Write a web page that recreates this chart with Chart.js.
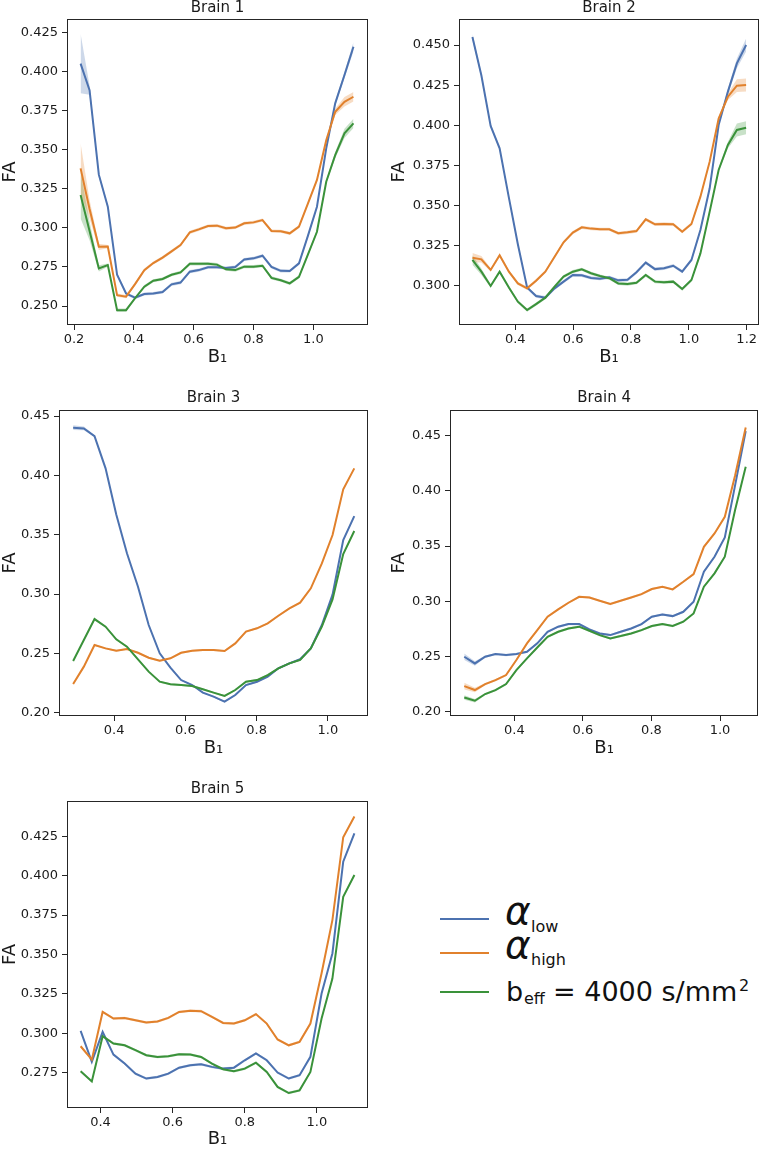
<!DOCTYPE html>
<html>
<head>
<meta charset="utf-8">
<script src="https://cdn.jsdelivr.net/npm/chart.js@4.4.1/dist/chart.umd.min.js"></script>
<style>
  html, body { margin:0; padding:0; background:#fff; }
  body { width:761px; height:1150px; position:relative; overflow:hidden; font-family:"DejaVu Sans", sans-serif; color:#111; }
  canvas { position:absolute; }
  .lg { position:absolute; line-height:1; white-space:nowrap; font-family:"DejaVu Sans", sans-serif; color:#111; }
  .ln { position:absolute; height:2px; width:49px; }
</style>
</head>
<body>
<canvas id="brain1" width="380" height="382" style="left:0px;top:0px"></canvas>
<canvas id="brain2" width="381" height="382" style="left:380px;top:0px"></canvas>
<canvas id="brain3" width="380" height="385" style="left:0px;top:382px"></canvas>
<canvas id="brain4" width="381" height="385" style="left:380px;top:382px"></canvas>
<canvas id="brain5" width="380" height="383" style="left:0px;top:767px"></canvas>

<div class="ln" style="left:440px;top:918px;background:#4c72b0"></div>
<div class="ln" style="left:440px;top:952px;background:#e1812c"></div>
<div class="ln" style="left:440px;top:991px;background:#3a923a"></div>
<div class="lg" style="left:505px;top:891px;font-size:39px;font-style:italic">α</div>
<div class="lg" style="left:531px;top:919px;font-size:16px">low</div>
<div class="lg" style="left:505px;top:925px;font-size:39px;font-style:italic">α</div>
<div class="lg" style="left:531px;top:952px;font-size:16px">high</div>
<div class="lg" style="left:506px;top:978px;font-size:27px">b</div>
<div class="lg" style="left:524px;top:991px;font-size:16px">eff</div>
<div class="lg" style="left:553px;top:978px;font-size:27px">= 4000 s/mm</div>
<div class="lg" style="left:739px;top:978px;font-size:16px">2</div>

<script>
// ---------------- DATA ----------------
const seriesNames = ['α_low', 'α_high', 'b_eff = 4000 s/mm²'];

// Brain 1
const brain1X = [0.222,0.252,0.283,0.313,0.344,0.374,0.404,0.435,0.465,0.496,0.526,0.556,0.587,0.617,0.648,0.678,0.708,0.739,0.769,0.800,0.830,0.860,0.891,0.921,0.952,0.982,1.012,1.043,1.073,1.104,1.134];
const brain1Low = [0.405,0.388,0.334,0.3135,0.270,0.258,0.2553,0.2577,0.258,0.259,0.2639,0.265,0.272,0.273,0.2748,0.2748,0.2743,0.275,0.2798,0.2805,0.2822,0.275,0.2725,0.2724,0.2773,0.295,0.3135,0.3508,0.3796,0.3977,0.4158];
const brain1High = [0.338,0.312,0.2879,0.288,0.257,0.256,0.264,0.273,0.2775,0.281,0.285,0.289,0.2971,0.299,0.3012,0.3014,0.2997,0.3002,0.3029,0.3035,0.305,0.298,0.2978,0.2965,0.3008,0.3157,0.3306,0.356,0.3742,0.3806,0.3838];
const brain1Eff = [0.321,0.298,0.2741,0.2762,0.2474,0.2474,0.255,0.2624,0.2662,0.2673,0.270,0.2715,0.277,0.277,0.2771,0.2765,0.2735,0.273,0.2752,0.2752,0.2758,0.268,0.2665,0.2645,0.2687,0.283,0.2975,0.3295,0.3465,0.3604,0.3668];
const brain1LowCi = [0.019,0.003,0.0015,0.001,0.001,0.001,0.001,0.001,0.001,0.001,0.001,0.001,0.001,0.001,0.001,0.001,0.001,0.001,0.001,0.001,0.001,0.001,0.001,0.001,0.001,0.001,0.001,0.001,0.0015,0.002,0.003];
const brain1HighCi = [0.016,0.006,0.002,0.001,0.001,0.001,0.001,0.001,0.001,0.001,0.001,0.001,0.001,0.001,0.001,0.001,0.001,0.001,0.001,0.001,0.001,0.001,0.001,0.001,0.001,0.001,0.001,0.001,0.002,0.003,0.003];
const brain1EffCi = [0.015,0.006,0.002,0.001,0.001,0.001,0.001,0.001,0.001,0.001,0.001,0.001,0.001,0.001,0.001,0.001,0.001,0.001,0.001,0.001,0.001,0.001,0.001,0.001,0.001,0.001,0.001,0.001,0.002,0.003,0.003];

// Brain 2
const brain2X = [0.252,0.283,0.315,0.346,0.378,0.409,0.441,0.472,0.504,0.536,0.567,0.599,0.630,0.662,0.693,0.725,0.756,0.788,0.819,0.851,0.883,0.914,0.946,0.977,1.009,1.040,1.072,1.103,1.135,1.166,1.198];
const brain2Low = [0.455,0.431,0.3996,0.3857,0.355,0.326,0.299,0.2937,0.2927,0.2985,0.3027,0.3068,0.3066,0.305,0.3045,0.3054,0.3035,0.3038,0.3085,0.3145,0.3105,0.311,0.3126,0.3089,0.3162,0.3348,0.3608,0.4002,0.421,0.4386,0.450];
const brain2High = [0.3176,0.3166,0.310,0.3191,0.3089,0.3016,0.2985,0.3033,0.3089,0.3182,0.3272,0.3332,0.3365,0.3357,0.3353,0.3353,0.3328,0.3334,0.3342,0.3415,0.3384,0.3386,0.3384,0.3338,0.3386,0.3556,0.3774,0.4043,0.4178,0.4247,0.4251];
const brain2Eff = [0.3162,0.3089,0.300,0.3089,0.2991,0.2902,0.285,0.2887,0.2927,0.2996,0.3058,0.3089,0.3104,0.3079,0.3062,0.3048,0.3016,0.3012,0.302,0.3068,0.3027,0.3023,0.3027,0.2981,0.3037,0.3203,0.3463,0.3722,0.3878,0.3971,0.3985];
const brain2LowCi = [0.002,0.0015,0.001,0.001,0.001,0.001,0.001,0.001,0.001,0.001,0.001,0.001,0.001,0.001,0.001,0.001,0.001,0.001,0.001,0.001,0.001,0.001,0.001,0.001,0.001,0.001,0.001,0.001,0.002,0.003,0.004];
const brain2HighCi = [0.003,0.002,0.001,0.001,0.001,0.001,0.001,0.001,0.001,0.001,0.001,0.001,0.001,0.001,0.001,0.001,0.001,0.001,0.001,0.001,0.001,0.001,0.001,0.001,0.001,0.001,0.001,0.001,0.002,0.004,0.004];
const brain2EffCi = [0.003,0.002,0.001,0.001,0.001,0.001,0.001,0.001,0.001,0.001,0.001,0.001,0.001,0.001,0.001,0.001,0.001,0.001,0.001,0.001,0.001,0.001,0.001,0.001,0.001,0.001,0.001,0.001,0.002,0.004,0.004];

// Brain 3
const brain3X = [0.285,0.315,0.345,0.376,0.406,0.436,0.467,0.497,0.528,0.558,0.588,0.619,0.649,0.679,0.710,0.740,0.770,0.801,0.831,0.861,0.892,0.922,0.952,0.983,1.013,1.043,1.074];
const brain3Low = [0.4402,0.4396,0.4331,0.4059,0.367,0.3343,0.3062,0.2739,0.250,0.238,0.2275,0.2233,0.2169,0.2135,0.2093,0.2149,0.2233,0.2261,0.2303,0.2374,0.2416,0.245,0.2542,0.2739,0.2995,0.3455,0.3657];
const brain3High = [0.2242,0.2388,0.257,0.2542,0.2522,0.2536,0.2505,0.2463,0.2438,0.2458,0.2505,0.2522,0.2528,0.2528,0.252,0.2584,0.2683,0.2711,0.2753,0.2817,0.2879,0.2927,0.3048,0.3258,0.3497,0.3882,0.4059];
const brain3Eff = [0.2435,0.2612,0.2789,0.2725,0.2618,0.2556,0.2449,0.2346,0.2261,0.2239,0.2233,0.2225,0.2197,0.2169,0.2141,0.2191,0.2261,0.2275,0.2317,0.2374,0.2416,0.2444,0.2542,0.2725,0.2955,0.3337,0.3531];
const brain3LowCi = [0.002,0.0015,0.0008,0.0008,0.0008,0.0008,0.0008,0.0008,0.0008,0.0008,0.0008,0.0008,0.0008,0.0008,0.0008,0.0008,0.0008,0.0008,0.0008,0.0008,0.0008,0.0008,0.0008,0.0008,0.0008,0.0008,0.0008];
const brain3HighCi = [0.0008,0.0008,0.0008,0.0008,0.0008,0.0008,0.0008,0.0008,0.0008,0.0008,0.0008,0.0008,0.0008,0.0008,0.0008,0.0008,0.0008,0.0008,0.0008,0.0008,0.0008,0.0008,0.0008,0.0008,0.0008,0.0008,0.0008];
const brain3EffCi = [0.0008,0.0008,0.0008,0.0008,0.0008,0.0008,0.0008,0.0008,0.0008,0.0008,0.0008,0.0008,0.0008,0.0008,0.0008,0.0008,0.0008,0.0008,0.0008,0.0008,0.0008,0.0008,0.0008,0.0008,0.0008,0.0008,0.0008];

// Brain 4
const brain4X = [0.254,0.285,0.315,0.345,0.376,0.406,0.437,0.467,0.497,0.528,0.558,0.589,0.619,0.649,0.680,0.710,0.741,0.771,0.801,0.832,0.862,0.893,0.923,0.953,0.984,1.014,1.044,1.075];
const brain4Low = [0.2498,0.2437,0.2498,0.2522,0.2513,0.2522,0.2543,0.2619,0.2724,0.277,0.2794,0.2794,0.2746,0.2709,0.2694,0.2724,0.2754,0.2794,0.286,0.2881,0.2866,0.2905,0.2996,0.3268,0.3404,0.3579,0.405,0.4542];
const brain4High = [0.2232,0.2196,0.225,0.2286,0.2332,0.2468,0.2619,0.2739,0.286,0.2927,0.2987,0.3041,0.3035,0.3005,0.2975,0.3005,0.3035,0.3065,0.3111,0.3132,0.3108,0.3177,0.3247,0.3494,0.3615,0.3766,0.414,0.4575];
const brain4Eff = [0.2129,0.2099,0.216,0.2196,0.225,0.2377,0.2483,0.2582,0.2679,0.2724,0.2754,0.277,0.2733,0.2694,0.2664,0.2685,0.2709,0.2739,0.2776,0.2794,0.2776,0.2815,0.289,0.3132,0.3253,0.3404,0.3827,0.4219];
const brain4LowCi = [0.003,0.002,0.001,0.001,0.001,0.001,0.001,0.001,0.001,0.001,0.001,0.001,0.001,0.001,0.001,0.001,0.001,0.001,0.001,0.001,0.001,0.001,0.001,0.001,0.001,0.001,0.001,0.001];
const brain4HighCi = [0.003,0.002,0.001,0.001,0.001,0.001,0.001,0.001,0.001,0.001,0.001,0.001,0.001,0.001,0.001,0.001,0.001,0.001,0.001,0.001,0.001,0.001,0.001,0.001,0.001,0.001,0.0015,0.002];
const brain4EffCi = [0.002,0.0015,0.001,0.001,0.001,0.001,0.001,0.001,0.001,0.001,0.001,0.001,0.001,0.001,0.001,0.001,0.001,0.001,0.001,0.001,0.001,0.001,0.001,0.001,0.001,0.001,0.001,0.001];

// Brain 5
const brain5X = [0.345,0.376,0.406,0.436,0.467,0.497,0.527,0.558,0.588,0.618,0.649,0.679,0.709,0.740,0.770,0.800,0.831,0.861,0.891,0.922,0.952,0.982,1.013,1.043,1.073,1.104];
const brain5Low = [0.3015,0.2818,0.3008,0.2864,0.2807,0.2743,0.2712,0.2722,0.2743,0.2781,0.2796,0.2803,0.2786,0.2775,0.2781,0.2828,0.2871,0.2828,0.275,0.2712,0.2733,0.285,0.3252,0.3506,0.4089,0.4269];
const brain5High = [0.2917,0.2832,0.3135,0.3093,0.3097,0.3082,0.3068,0.3074,0.3097,0.3135,0.3142,0.314,0.3104,0.3065,0.3061,0.3082,0.3121,0.3061,0.296,0.2923,0.2945,0.3061,0.338,0.3718,0.4244,0.4375];
const brain5Eff = [0.2758,0.2694,0.2981,0.2934,0.2923,0.2892,0.286,0.2849,0.2854,0.2866,0.2864,0.2849,0.2807,0.2771,0.2758,0.2775,0.2813,0.2754,0.2659,0.262,0.2637,0.2754,0.3093,0.3347,0.3866,0.4004];
const brain5LowCi = [0.0008,0.0008,0.0008,0.0008,0.0008,0.0008,0.0008,0.0008,0.0008,0.0008,0.0008,0.0008,0.0008,0.0008,0.0008,0.0008,0.0008,0.0008,0.0008,0.0008,0.0008,0.0008,0.0008,0.0008,0.0008,0.0008];
const brain5HighCi = [0.0008,0.0008,0.0008,0.0008,0.0008,0.0008,0.0008,0.0008,0.0008,0.0008,0.0008,0.0008,0.0008,0.0008,0.0008,0.0008,0.0008,0.0008,0.0008,0.0008,0.0008,0.0008,0.0008,0.0008,0.0008,0.0008];
const brain5EffCi = [0.0008,0.0008,0.0008,0.0008,0.0008,0.0008,0.0008,0.0008,0.0008,0.0008,0.0008,0.0008,0.0008,0.0008,0.0008,0.0008,0.0008,0.0008,0.0008,0.0008,0.0008,0.0008,0.0008,0.0008,0.0008,0.0008];

// Tick labels
const xTicksA = [0.2, 0.4, 0.6, 0.8, 1.0];
const xTicksB = [0.4, 0.6, 0.8, 1.0, 1.2];
const xTicksC = [0.4, 0.6, 0.8, 1.0];
const yTicks1 = [0.250, 0.275, 0.300, 0.325, 0.350, 0.375, 0.400, 0.425];
const yTicks2 = [0.300, 0.325, 0.350, 0.375, 0.400, 0.425, 0.450];
const yTicks34 = [0.20, 0.25, 0.30, 0.35, 0.40, 0.45];
const yTicks5 = [0.275, 0.300, 0.325, 0.350, 0.375, 0.400, 0.425];

// ---------------- STYLE ----------------
const COLORS = ['#4c72b0', '#e1812c', '#3a923a'];
const BANDS = ['rgba(76,114,176,0.28)', 'rgba(225,129,44,0.28)', 'rgba(58,146,58,0.28)'];
const INK = '#1a1a1a';
const FRAME = '#262626';

Chart.defaults.font.family = '"DejaVu Sans", sans-serif';
Chart.defaults.color = INK;

const framePlugin = {
  id: 'frame',
  afterDatasetsDraw(chart) {
    const a = chart.chartArea, ctx = chart.ctx;
    ctx.save();
    ctx.strokeStyle = FRAME;
    ctx.lineWidth = 1;
    const l = Math.round(a.left) + 0.5, t = Math.round(a.top) + 0.5;
    const r = Math.round(a.right) - 0.5, b = Math.round(a.bottom) - 0.5;
    ctx.strokeRect(l, t, r - l, b - t);
    ctx.restore();
  }
};

function makeChart(id, s) {
  const datasets = [];
  s.series.forEach((ser, k) => {
    datasets.push({
      label: seriesNames[k] + ' lower',
      data: s.x.map((x, i) => ({ x: x, y: ser.y[i] - ser.ci[i] })),
      borderColor: 'rgba(0,0,0,0)', borderWidth: 0, pointRadius: 0, fill: false, order: 10 + 2 * k
    });
    datasets.push({
      label: seriesNames[k] + ' upper',
      data: s.x.map((x, i) => ({ x: x, y: ser.y[i] + ser.ci[i] })),
      borderColor: 'rgba(0,0,0,0)', borderWidth: 0, pointRadius: 0,
      fill: '-1', backgroundColor: BANDS[k], order: 10 + 2 * k
    });
  });
  s.series.forEach((ser, k) => {
    datasets.push({
      label: seriesNames[k],
      data: s.x.map((x, i) => ({ x: x, y: ser.y[i] })),
      borderColor: COLORS[k], borderWidth: 2, pointRadius: 0, fill: false,
      tension: 0, order: 2 - k
    });
  });

  return new Chart(document.getElementById(id), {
    type: 'line',
    data: { datasets },
    options: {
      responsive: false,
      animation: false,
      events: [],
      layout: { padding: { left: 0, right: s.padRight, top: 0, bottom: 0 } },
      plugins: {
        legend: { display: false },
        tooltip: { enabled: false },
        title: {
          display: true, text: s.title, fullSize: false, color: INK,
          font: { size: 15, weight: 'normal', lineHeight: 1 },
          padding: { top: s.titlePad[0], bottom: s.titlePad[1] }
        }
      },
      scales: {
        x: {
          type: 'linear', min: s.xRange[0], max: s.xRange[1], bounds: 'data',
          border: { display: false },
          grid: { display: true, drawOnChartArea: false, drawTicks: true, tickLength: 5, color: FRAME, lineWidth: 1 },
          ticks: { autoSkip: false, maxRotation: 0, minRotation: 0, padding: 2, color: INK,
                   font: { size: 13 }, callback: v => Number(v).toFixed(1) },
          afterBuildTicks: sc => { sc.ticks = s.xTicks.map(v => ({ value: v })); },
          afterFit: sc => { sc.height = s.xH; sc.paddingLeft = 0; sc.paddingRight = 0; },
          title: { display: true, text: 'B₁', color: INK, font: { size: 18 },
                   padding: { top: 0, bottom: s.xTitlePad } }
        },
        y: {
          type: 'linear', min: s.yRange[0], max: s.yRange[1], bounds: 'data',
          border: { display: false },
          grid: { display: true, drawOnChartArea: false, drawTicks: true, tickLength: 5, color: FRAME, lineWidth: 1 },
          ticks: { autoSkip: false, padding: 4, color: INK, font: { size: 13 },
                   callback: v => Number(v).toFixed(s.yDec) },
          afterBuildTicks: sc => { sc.ticks = s.yTicks.map(v => ({ value: v })); },
          afterFit: sc => { sc.width = s.yW; },
          title: { display: true, text: 'FA', color: INK, font: { size: 18 },
                   padding: { top: s.yTitlePad, bottom: 0 } }
        }
      }
    },
    plugins: [framePlugin]
  });
}

makeChart('brain1', {
  title: 'Brain 1', x: brain1X,
  series: [{ y: brain1Low, ci: brain1LowCi }, { y: brain1High, ci: brain1HighCi }, { y: brain1Eff, ci: brain1EffCi }],
  xRange: [0.1766, 1.1826], yRange: [0.2379, 0.4335], xTicks: xTicksA, yTicks: yTicks1, yDec: 3,
  yW: 67, xH: 57, padRight: 12, titlePad: [0.5, 3.5], xTitlePad: 14, yTitlePad: 0
});
makeChart('brain2', {
  title: 'Brain 2', x: brain2X,
  series: [{ y: brain2Low, ci: brain2LowCi }, { y: brain2High, ci: brain2HighCi }, { y: brain2Eff, ci: brain2EffCi }],
  xRange: [0.2056, 1.2425], yRange: [0.2757, 0.4662], xTicks: xTicksB, yTicks: yTicks2, yDec: 3,
  yW: 79, xH: 57, padRight: 2, titlePad: [0.5, 3.5], xTitlePad: 14, yTitlePad: 9
});
makeChart('brain3', {
  title: 'Brain 3', x: brain3X,
  series: [{ y: brain3Low, ci: brain3LowCi }, { y: brain3High, ci: brain3HighCi }, { y: brain3Eff, ci: brain3EffCi }],
  xRange: [0.2453, 1.1125], yRange: [0.1972, 0.4551], xTicks: xTicksC, yTicks: yTicks34, yDec: 2,
  yW: 59, xH: 51, padRight: 12, titlePad: [8.5, 4.5], xTitlePad: 8, yTitlePad: 0
});
makeChart('brain4', {
  title: 'Brain 4', x: brain4X,
  series: [{ y: brain4Low, ci: brain4LowCi }, { y: brain4High, ci: brain4HighCi }, { y: brain4Eff, ci: brain4EffCi }],
  xRange: [0.2124, 1.1117], yRange: [0.1961, 0.4733], xTicks: xTicksC, yTicks: yTicks34, yDec: 2,
  yW: 70, xH: 51, padRight: 2.7, titlePad: [8.5, 4.5], xTitlePad: 8, yTitlePad: 9
});
makeChart('brain5', {
  title: 'Brain 5', x: brain5X,
  series: [{ y: brain5Low, ci: brain5LowCi }, { y: brain5High, ci: brain5HighCi }, { y: brain5Eff, ci: brain5EffCi }],
  xRange: [0.3072, 1.1417], yRange: [0.2525, 0.4474], xTicks: xTicksC, yTicks: yTicks5, yDec: 3,
  yW: 67, xH: 42, padRight: 12, titlePad: [14.5, 4.5], xTitlePad: 0, yTitlePad: 0
});
</script>
</body>
</html>
